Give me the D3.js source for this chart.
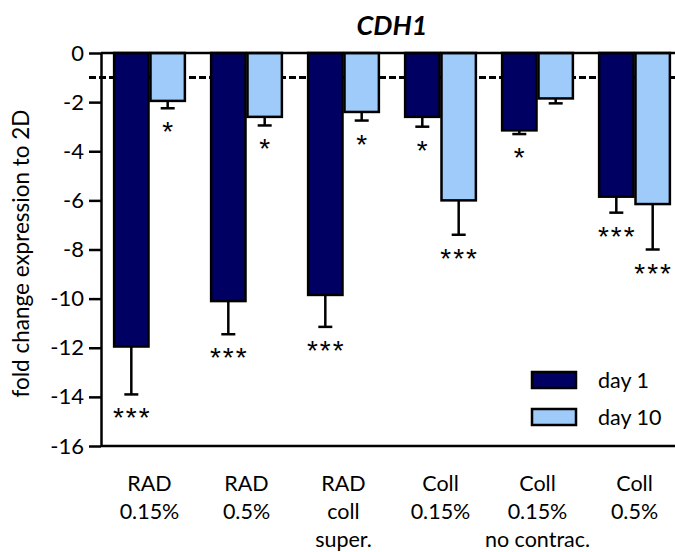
<!DOCTYPE html>
<html>
<head>
    <meta charset="utf-8">
    <script src="https://cdn.jsdelivr.net/npm/d3@7"></script>
    <style>
        body { margin: 0; background: #fff; }
        text { font-family: Lato, "Open Sans", sans-serif; fill: #000; }
    </style>
</head>
<body>
<div id="chart"></div>
<script>
    // data
    var groups = ["RAD 0.15%", "RAD 0.5%", "RAD coll super.", "Coll 0.15%", "Coll 0.15% no contrac.", "Coll 0.5%"];
    var groupLines = [["RAD", "0.15%"], ["RAD", "0.5%"], ["RAD", "coll", "super."], ["Coll", "0.15%"], ["Coll", "0.15%", "no contrac."], ["Coll", "0.5%"]];
    var series = ["day 1", "day 10"];
    var day1 = [-11.95, -10.1, -9.85, -2.6, -3.15, -5.85];
    var day1Err = [1.95, 1.35, 1.3, 0.4, 0.15, 0.65];
    var day10 = [-1.95, -2.6, -2.4, -6.0, -1.85, -6.15];
    var day10Err = [0.3, 0.35, 0.35, 1.4, 0.2, 1.85];
    var day1Sig = ["***", "***", "***", "*", "*", "***"];
    var day10Sig = ["*", "*", "*", "***", "", "***"];
    var yTicks = [0, -2, -4, -6, -8, -10, -12, -14, -16];
    var refLine = -1;
    var colors = ["#000062", "#9ecbf9"];

    var W = 675, H = 552;
    var margin = {left: 101, top: 53, right: -8, bottom: 106};

    var svg = d3.select("#chart").append("svg")
        .attr("width", W).attr("height", H);

    var y = d3.scaleLinear().domain([0, -16]).range([margin.top, H - margin.bottom]);
    var x = d3.scaleBand().domain(groups)
        .range([margin.left, W - margin.right])
        .paddingInner(0.25).paddingOuter(0.125);
    var xs = d3.scaleBand().domain(series).range([0, x.bandwidth()]);

    var rows = [];
    groups.forEach(function(g, i) {
        rows.push({g: g, s: series[0], v: day1[i], e: day1Err[i], sig: day1Sig[i], c: colors[0]});
        rows.push({g: g, s: series[1], v: day10[i], e: day10Err[i], sig: day10Sig[i], c: colors[1]});
    });

    // dashed reference line
    svg.append("line")
        .attr("x1", margin.left - 12).attr("x2", W)
        .attr("y1", y(refLine)).attr("y2", y(refLine))
        .attr("stroke", "#000").attr("stroke-width", 3)
        .attr("stroke-dasharray", "7,3");

    // error bars
    var eb = svg.append("g").selectAll("g").data(rows).enter().append("g")
        .attr("stroke", "#000").attr("stroke-width", 2.5);
    eb.append("line")
        .attr("x1", function(d) { return x(d.g) + xs(d.s) + xs.bandwidth() / 2; })
        .attr("x2", function(d) { return x(d.g) + xs(d.s) + xs.bandwidth() / 2; })
        .attr("y1", function(d) { return y(d.v); })
        .attr("y2", function(d) { return y(d.v - d.e); });
    eb.append("line")
        .attr("x1", function(d) { return x(d.g) + xs(d.s) + xs.bandwidth() / 2 - 7; })
        .attr("x2", function(d) { return x(d.g) + xs(d.s) + xs.bandwidth() / 2 + 7; })
        .attr("y1", function(d) { return y(d.v - d.e); })
        .attr("y2", function(d) { return y(d.v - d.e); });

    // bars
    svg.append("g").selectAll("rect").data(rows).enter().append("rect")
        .attr("x", function(d) { return x(d.g) + xs(d.s) + 1; })
        .attr("y", y(0))
        .attr("width", xs.bandwidth() - 2)
        .attr("height", function(d) { return y(d.v) - y(0); })
        .attr("fill", function(d) { return d.c; })
        .attr("stroke", "#000").attr("stroke-width", 2.5);

    // significance stars
    svg.append("g").selectAll("text").data(rows).enter().append("text")
        .attr("x", function(d) { return x(d.g) + xs(d.s) + xs.bandwidth() / 2 + 1; })
        .attr("y", function(d) { return y(d.v - d.e) + 33; })
        .attr("text-anchor", "middle")
        .style("font-family", "'Liberation Sans', Arial, sans-serif")
        .style("font-size", "28px")
        .style("letter-spacing", "2px")
        .text(function(d) { return d.sig; });

    // y axis
    var yAxis = svg.append("g")
        .attr("transform", "translate(" + margin.left + ",0)")
        .call(d3.axisLeft(y).tickValues(yTicks).tickSize(12).tickPadding(5).tickSizeOuter(0)
            .tickFormat(function(d) { return String(d); }));
    yAxis.select(".domain").attr("stroke-width", 2.5);
    yAxis.selectAll(".tick line").attr("stroke-width", 2.5);
    yAxis.selectAll(".tick text").style("font-size", "22px").style("font-family", "Lato, sans-serif");

    // horizontal lines at 0 and -16
    [0, -16].forEach(function(v) {
        svg.append("line")
            .attr("x1", margin.left).attr("x2", W)
            .attr("y1", y(v)).attr("y2", y(v))
            .attr("stroke", "#000").attr("stroke-width", 2.5);
    });

    // y label
    svg.append("text")
        .attr("transform", "translate(29," + ((y(0) + y(-16)) / 2 + 4) + ") rotate(-90)")
        .attr("text-anchor", "middle")
        .style("font-size", "22.5px")
        .text("fold change expression to 2D");

    // title
    svg.append("text")
        .attr("x", 392).attr("y", 35)
        .attr("text-anchor", "middle")
        .style("font-size", "27px").style("font-weight", "bold").style("font-style", "italic")
        .text("CDH1");

    // x labels
    var xl = svg.append("g").selectAll("text").data(groups).enter().append("text")
        .attr("x", function(d) { return x(d) + x.bandwidth() / 2; })
        .attr("y", 491)
        .attr("text-anchor", "middle")
        .style("font-size", "21.5px");
    xl.selectAll("tspan").data(function(d, i) { return groupLines[i]; }).enter().append("tspan")
        .attr("x", function() { return d3.select(this.parentNode).attr("x"); })
        .attr("dy", function(d, i) { return i === 0 ? 0 : 28; })
        .text(function(d) { return d; });

    // legend
    var lg = svg.append("g").selectAll("g").data(series).enter().append("g")
        .attr("transform", function(d, i) { return "translate(532," + (372 + i * 37) + ")"; });
    lg.append("rect")
        .attr("width", 44).attr("height", 16)
        .attr("fill", function(d, i) { return colors[i]; })
        .attr("stroke", "#000").attr("stroke-width", 2.5);
    lg.append("text")
        .attr("x", 66).attr("y", 16)
        .style("font-size", "21.5px")
        .text(function(d) { return d; });
</script>
</body>
</html>
